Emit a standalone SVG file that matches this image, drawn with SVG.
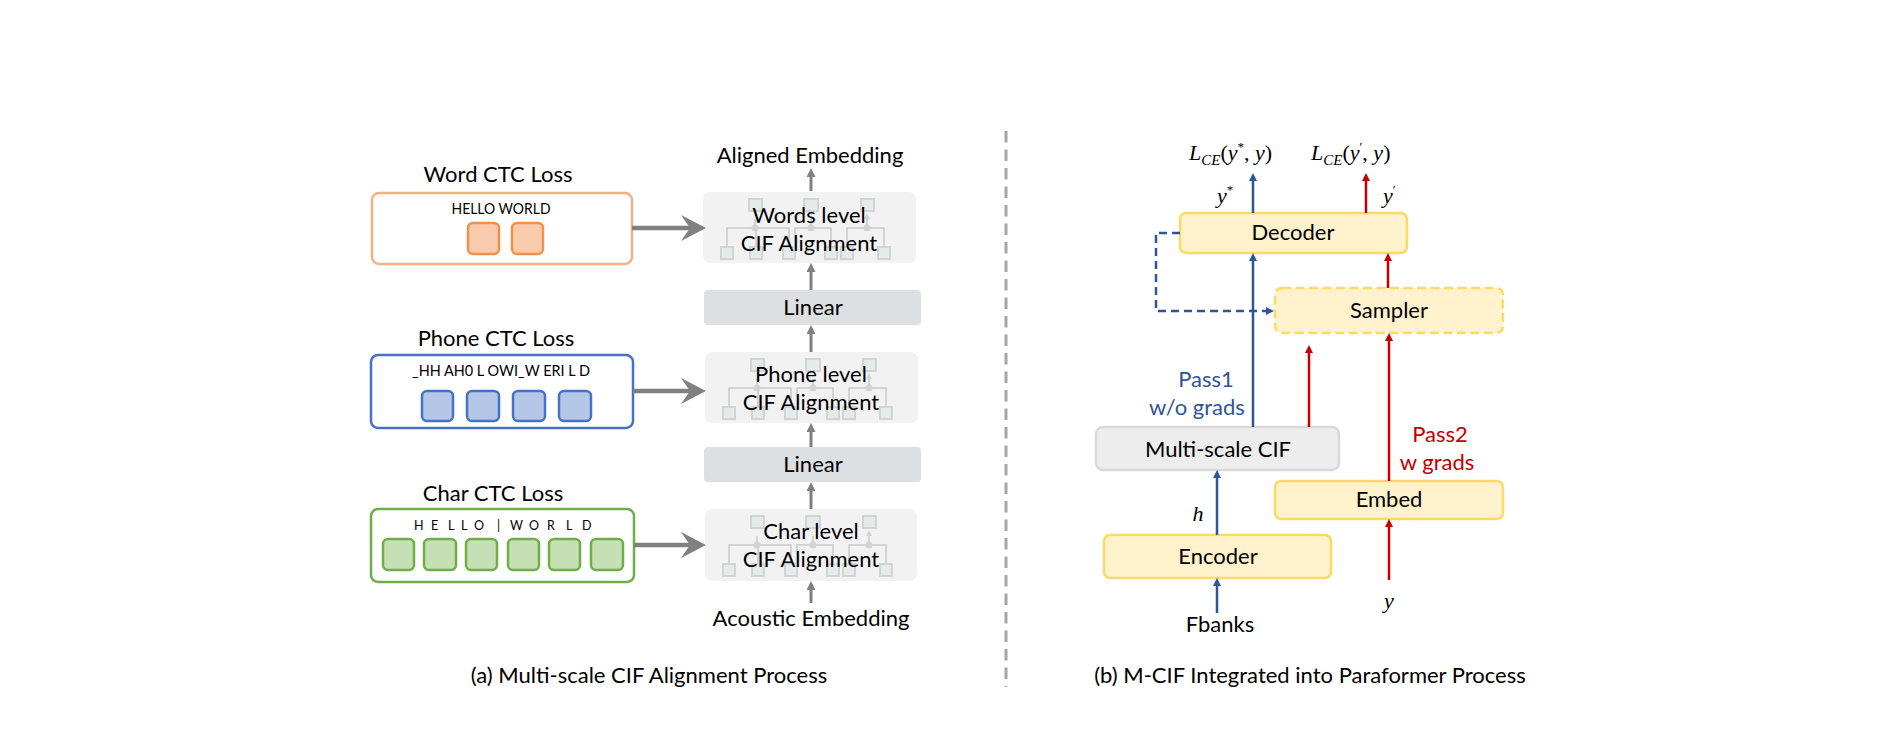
<svg xmlns="http://www.w3.org/2000/svg" width="1890" height="756" viewBox="0 0 1890 756">
<style>
.t{font-family:Lato,"Liberation Sans",sans-serif;fill:#000;font-size:22px}
.s{font-size:15px}
.s14{font-size:12.5px}
.c{text-anchor:middle}
.m{font-family:"Liberation Serif",serif;font-style:italic;font-size:22px;fill:#000}
.ga{stroke:#808080;stroke-width:3;fill:none}
.ba{stroke:#2F5597;stroke-width:2.5;fill:none}
.ra{stroke:#C00000;stroke-width:2.5;fill:none}
.big{stroke:#808080;stroke-width:4.5;fill:none}
.yl{fill:#FFF2CC;stroke:#FFD966;stroke-width:2.5}
.sqo{fill:#F8CBAD;stroke:#F0914B;stroke-width:2.5}
.sqb{fill:#B4C7E7;stroke:#4472C4;stroke-width:2.5}
.sqg{fill:#C5E0B4;stroke:#70AD47;stroke-width:2.5}
.al{fill:#F2F2F2}
.lin{fill:#DDE0E2}
.ic{fill:#E3EBEB;stroke:#D3D3D3;stroke-width:2}
.il{stroke:#D3D3D3;stroke-width:2;fill:none}
</style>
<defs>
<marker id="mg" viewBox="0 0 10 10" refX="0" refY="5" markerWidth="9" markerHeight="9" markerUnits="userSpaceOnUse" orient="auto"><path d="M0,0L10,5L0,10z" fill="#808080"/></marker>
<marker id="mb" viewBox="0 0 10 10" refX="0" refY="5" markerWidth="8" markerHeight="8" markerUnits="userSpaceOnUse" orient="auto"><path d="M0,0L10,5L0,10z" fill="#2F5597"/></marker>
<marker id="mr" viewBox="0 0 10 10" refX="0" refY="5" markerWidth="8" markerHeight="8" markerUnits="userSpaceOnUse" orient="auto"><path d="M0,0L10,5L0,10z" fill="#C00000"/></marker>
<marker id="mi" viewBox="0 0 10 10" refX="0" refY="5" markerWidth="6" markerHeight="6" markerUnits="userSpaceOnUse" orient="auto"><path d="M0,0L10,5L0,10z" fill="#D3D3D3"/></marker>
<g id="cif">
<path class="il" d="M24,55V36H86V55M53,36V55M92,55V36H128V55M144,55V36H181V55"/>
<path class="il" d="M52,36V27M108,36V27M164,36V27" marker-end="url(#mi)"/>
<circle cx="52" cy="36" r="3.5" fill="#D3D3D3"/>
<circle cx="108" cy="36" r="3.5" fill="#D3D3D3"/>
<circle cx="164" cy="36" r="3.5" fill="#D3D3D3"/>
<rect class="ic" x="46" y="7" width="13" height="12"/>
<rect class="ic" x="101" y="7" width="14" height="12"/>
<rect class="ic" x="158" y="7" width="13" height="12"/>
<rect class="ic" x="18" y="55" width="12" height="12"/>
<rect class="ic" x="47" y="55" width="12" height="12"/>
<rect class="ic" x="80" y="55" width="12" height="12"/>
<rect class="ic" x="122" y="55" width="12" height="12"/>
<rect class="ic" x="138" y="55" width="12" height="12"/>
<rect class="ic" x="175" y="55" width="12" height="12"/>
</g>
</defs>
<rect width="1890" height="756" fill="#fff"/>

<!-- divider -->
<line x1="1006" y1="131" x2="1006" y2="687" stroke="#A6A6A6" stroke-width="3" stroke-dasharray="11.5 7"/>

<!-- Left panel: loss boxes -->
<g id="word-ctc">
<text class="t c" x="498" y="182">Word CTC Loss</text>
<rect x="372" y="193" width="260" height="71" rx="7" fill="#fff" stroke="#F4B183" stroke-width="2.5"/>
<text class="t s c" x="501" y="214" textLength="99" lengthAdjust="spacingAndGlyphs">HELLO WORLD</text>
<rect class="sqo" x="468" y="223" width="31" height="31" rx="5"/>
<rect class="sqo" x="512" y="223" width="31" height="31" rx="5"/>
</g>
<g id="phone-ctc">
<text class="t c" x="496" y="346">Phone CTC Loss</text>
<rect x="371" y="355" width="262" height="73" rx="7" fill="#fff" stroke="#4472C4" stroke-width="2.5"/>
<text class="t s c" x="501" y="376" textLength="178" lengthAdjust="spacingAndGlyphs">_HH AH0 L OWI_W ERI L D</text>
<rect class="sqb" x="422" y="391" width="31" height="30" rx="5"/>
<rect class="sqb" x="467" y="391" width="32" height="30" rx="5"/>
<rect class="sqb" x="513" y="391" width="32" height="30" rx="5"/>
<rect class="sqb" x="559" y="391" width="32" height="30" rx="5"/>
</g>
<g id="char-ctc">
<text class="t c" x="493" y="501">Char CTC Loss</text>
<rect x="371" y="509" width="263" height="73" rx="7" fill="#fff" stroke="#70AD47" stroke-width="2.5"/>
<text class="t s14" y="530" x="414 431 448 461 474 497 510 529 547 566 582">HELLO|WORLD</text>
<rect class="sqg" x="383" y="539" width="31" height="31" rx="5"/>
<rect class="sqg" x="424" y="539" width="32" height="31" rx="5"/>
<rect class="sqg" x="466" y="539" width="31" height="31" rx="5"/>
<rect class="sqg" x="508" y="539" width="31" height="31" rx="5"/>
<rect class="sqg" x="549" y="539" width="31" height="31" rx="5"/>
<rect class="sqg" x="591" y="539" width="32" height="31" rx="5"/>
</g>

<!-- Left panel: alignment column -->
<g id="aligned-emb"><text class="t c" x="810" y="163">Aligned Embedding</text></g>
<g id="words-level">
<rect class="al" x="703" y="192" width="213" height="71" rx="7"/>
<use href="#cif" x="703" y="192"/>
<text class="t c" x="809" y="223">Words level</text>
<text class="t c" x="809" y="251">CIF Alignment</text>
</g>
<g id="linear1"><rect class="lin" x="704" y="290" width="217" height="35" rx="4"/><text class="t c" x="813" y="315">Linear</text></g>
<g id="phone-level">
<rect class="al" x="705" y="352" width="213" height="71" rx="7"/>
<use href="#cif" x="705" y="352"/>
<text class="t c" x="811" y="382">Phone level</text>
<text class="t c" x="811" y="410">CIF Alignment</text>
</g>
<g id="linear2"><rect class="lin" x="704" y="447" width="217" height="35" rx="4"/><text class="t c" x="813" y="472">Linear</text></g>
<g id="char-level">
<rect class="al" x="705" y="509" width="212" height="72" rx="7"/>
<use href="#cif" x="705" y="509"/>
<text class="t c" x="811" y="539">Char level</text>
<text class="t c" x="811" y="567">CIF Alignment</text>
</g>
<g id="acoustic-emb"><text class="t c" x="811" y="626">Acoustic Embedding</text></g>
<g id="caption-a"><text class="t c" x="649" y="683">(a) Multi-scale CIF Alignment Process</text></g>

<!-- Right panel -->
<g id="loss1"><text class="m" x="1189" y="160">L<tspan font-size="15" dy="5">CE</tspan><tspan dy="-5" font-style="normal">(</tspan>y<tspan font-size="13" dy="-9" font-style="normal">*</tspan><tspan dy="9" font-style="normal">, </tspan>y<tspan font-style="normal">)</tspan></text></g>
<g id="loss2"><text class="m" x="1311" y="160">L<tspan font-size="15" dy="5">CE</tspan><tspan dy="-5" font-style="normal">(</tspan>y<tspan font-size="13" dy="-9" font-style="normal">′</tspan><tspan dy="9" font-style="normal">, </tspan>y<tspan font-style="normal">)</tspan></text></g>
<g id="ystar"><text class="m" x="1217" y="203">y<tspan font-size="13" dy="-9" font-style="normal">*</tspan></text></g>
<g id="yprime"><text class="m" x="1383" y="203">y<tspan font-size="13" dy="-9" font-style="normal">′</tspan></text></g>
<g id="decoder"><rect class="yl" x="1180" y="213" width="227" height="40" rx="6"/><text class="t c" x="1293" y="240">Decoder</text></g>
<g id="sampler"><rect class="yl" x="1275" y="288" width="228" height="45" rx="7" stroke-dasharray="9 4.5"/><text class="t c" x="1389" y="318">Sampler</text></g>
<g id="pass1"><text class="t c" x="1206" y="387" style="fill:#2F5597">Pass1</text><text class="t c" x="1197" y="415" style="fill:#2F5597">w/o grads</text></g>
<g id="mscif"><rect x="1096" y="427" width="243" height="43" rx="7" fill="#EDEDED" stroke="#D9D9D9" stroke-width="2.5"/><text class="t c" x="1218" y="457">Multi-scale CIF</text></g>
<g id="pass2"><text class="t c" x="1440" y="442" style="fill:#C00000">Pass2</text><text class="t c" x="1437" y="470" style="fill:#C00000">w grads</text></g>
<g id="embed"><rect class="yl" x="1275" y="481" width="228" height="38" rx="6"/><text class="t c" x="1389" y="507">Embed</text></g>
<g id="h-label"><text class="m c" x="1198" y="521">h</text></g>
<g id="encoder"><rect class="yl" x="1104" y="535" width="227" height="43" rx="6"/><text class="t c" x="1218" y="564">Encoder</text></g>
<g id="fbanks"><text class="t c" x="1220" y="632">Fbanks</text></g>
<g id="y-label"><text class="m c" x="1389" y="608">y</text></g>
<g id="caption-b"><text class="t c" x="1310" y="683">(b) M-CIF Integrated into Paraformer Process</text></g>

<!-- connectors -->
<g id="connectors">
<path class="big" d="M632,228H692M633,391H692M634,545H692"/>
<path d="M706,228L681,215L690,228L681,241z" fill="#808080"/>
<path d="M706,391L681,378L690,391L681,404z" fill="#808080"/>
<path d="M706,545L681,532L690,545L681,558z" fill="#808080"/>
<line class="ga" x1="811" y1="191" x2="811" y2="177" marker-end="url(#mg)"/>
<line class="ga" x1="811" y1="290" x2="811" y2="272" marker-end="url(#mg)"/>
<line class="ga" x1="811" y1="352" x2="811" y2="334" marker-end="url(#mg)"/>
<line class="ga" x1="811" y1="447" x2="811" y2="432" marker-end="url(#mg)"/>
<line class="ga" x1="811" y1="509" x2="811" y2="491" marker-end="url(#mg)"/>
<line class="ga" x1="811" y1="603" x2="811" y2="590" marker-end="url(#mg)"/>

<line class="ba" x1="1217" y1="613" x2="1217" y2="586" marker-end="url(#mb)"/>
<line class="ba" x1="1217" y1="535" x2="1217" y2="478" marker-end="url(#mb)"/>
<line class="ba" x1="1253" y1="427" x2="1253" y2="261" marker-end="url(#mb)"/>
<line class="ba" x1="1253" y1="213" x2="1253" y2="181" marker-end="url(#mb)"/>
<path class="ba" d="M1180,233H1156V311H1266" stroke-dasharray="8 5" marker-end="url(#mb)"/>

<line class="ra" x1="1309" y1="427" x2="1309" y2="353" marker-end="url(#mr)"/>
<line class="ra" x1="1389" y1="481" x2="1389" y2="341" marker-end="url(#mr)"/>
<line class="ra" x1="1388" y1="288" x2="1388" y2="261" marker-end="url(#mr)"/>
<line class="ra" x1="1366" y1="213" x2="1366" y2="181" marker-end="url(#mr)"/>
<line class="ra" x1="1389" y1="580" x2="1389" y2="527" marker-end="url(#mr)"/>
</g>
</svg>
